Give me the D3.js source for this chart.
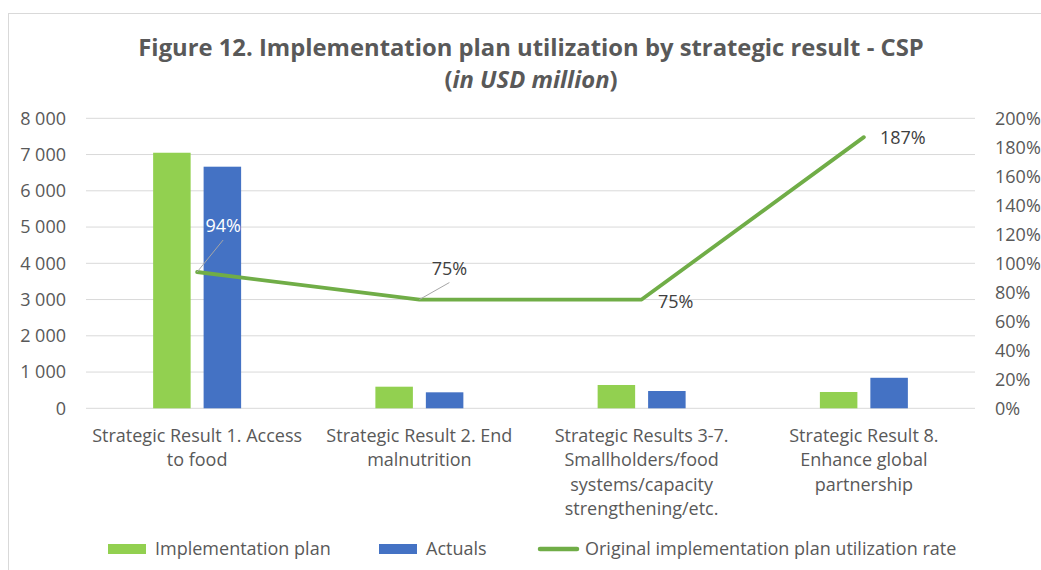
<!DOCTYPE html>
<html lang="en">
<head>
    <meta charset="UTF-8">
    <title>Implementation plan utilization by strategic result</title>
    <style>
        body {
            margin: 0;
            padding: 0;
            background-color: #ffffff;
            font-family: "Open Sans", Arial, sans-serif;
        }
        svg text {
            font-family: "Open Sans", Arial, sans-serif;
        }
    </style>
    <script src="https://d3js.org/d3.v7.min.js"></script>
</head>
<body>
    <svg id="chart" width="1041" height="570"></svg>

    <script>
        // data (USD million)
        const categories = [
            "Strategic Result 1. Access to food",
            "Strategic Result 2. End malnutrition",
            "Strategic Results 3-7. Smallholders/food systems/capacity strengthening/etc.",
            "Strategic Result 8. Enhance global partnership"
        ];
        const categoryLines = [
            ["Strategic Result 1. Access", "to food"],
            ["Strategic Result 2. End", "malnutrition"],
            ["Strategic Results 3-7.", "Smallholders/food", "systems/capacity", "strengthening/etc."],
            ["Strategic Result 8.", "Enhance global", "partnership"]
        ];
        const seriesNames = ["Implementation plan", "Actuals"];
        const implementationPlan = [7050, 596, 643, 450];
        const actuals = [6665, 441, 477, 842];
        const utilizationRate = [0.94, 0.75, 0.75, 1.87];
        const leftTicks = [0, 1000, 2000, 3000, 4000, 5000, 6000, 7000, 8000];
        const rightTicks = [0, 0.2, 0.4, 0.6, 0.8, 1.0, 1.2, 1.4, 1.6, 1.8, 2.0];
        const legendLabels = ["Implementation plan", "Actuals", "Original implementation plan utilization rate"];

        const colors = { plan: "#92D050", actual: "#4472C4", line: "#70AD47" };
        const textColor = "#595959";
        const fontSize = 18;

        const svg = d3.select("#chart");

        const plot = { left: 86, right: 975, top: 118.3, bottom: 408.3 };

        const x = d3.scaleBand()
            .domain(categories)
            .range([plot.left, plot.right])
            .padding(0);

        const x1 = d3.scaleBand()
            .domain(seriesNames)
            .range([0, x.bandwidth()])
            .paddingInner(0.257)
            .paddingOuter(1.33);

        const yLeft = d3.scaleLinear().domain([0, 8000]).range([plot.bottom, plot.top]);
        const yRight = d3.scaleLinear().domain([0, 2]).range([plot.bottom, plot.top]);

        const fmt = d3.formatLocale({ decimal: ".", thousands: " ", grouping: [3], currency: ["$", ""] }).format(",");
        const pct = d3.format(".0%");

        // outer frame of the chart
        svg.append("rect")
            .attr("x", 8.5).attr("y", 13.5)
            .attr("width", 1100).attr("height", 600)
            .attr("fill", "none")
            .attr("stroke", "#d9d9d9");

        // title
        svg.append("text")
            .attr("x", 531).attr("y", 56)
            .attr("text-anchor", "middle")
            .attr("font-size", 23.8)
            .attr("font-weight", "bold")
            .attr("fill", textColor)
            .text("Figure 12. Implementation plan utilization by strategic result - CSP");

        const sub = svg.append("text")
            .attr("x", 531).attr("y", 88)
            .attr("text-anchor", "middle")
            .attr("font-size", 23.8)
            .attr("font-weight", "bold")
            .attr("fill", textColor);
        sub.append("tspan").text("(");
        sub.append("tspan").attr("font-style", "italic").text("in USD million");
        sub.append("tspan").text(")");

        // gridlines
        svg.append("g")
            .selectAll("line")
            .data(leftTicks)
            .enter().append("line")
            .attr("x1", plot.left).attr("x2", plot.right)
            .attr("y1", d => yLeft(d)).attr("y2", d => yLeft(d))
            .attr("stroke", "#d9d9d9")
            .attr("stroke-width", 1);

        // left axis
        const leftAxis = svg.append("g")
            .attr("transform", `translate(${plot.left - 20},0)`)
            .call(d3.axisLeft(yLeft).tickValues(leftTicks).tickFormat(fmt).tickSize(0).tickPadding(0));
        leftAxis.select(".domain").remove();
        leftAxis.selectAll("text")
            .attr("font-size", fontSize)
            .attr("fill", textColor)
            .style("font-family", "'Open Sans', Arial, sans-serif");

        // right axis
        const rightAxis = svg.append("g")
            .attr("transform", `translate(${plot.right + 20},0)`)
            .call(d3.axisRight(yRight).tickValues(rightTicks).tickFormat(pct).tickSize(0).tickPadding(0));
        rightAxis.select(".domain").remove();
        rightAxis.selectAll("text")
            .attr("font-size", fontSize)
            .attr("fill", textColor)
            .style("font-family", "'Open Sans', Arial, sans-serif");

        // bars
        const rows = categories.map((c, i) => ({
            cat: c,
            values: [
                { key: seriesNames[0], value: implementationPlan[i], color: colors.plan },
                { key: seriesNames[1], value: actuals[i], color: colors.actual }
            ]
        }));

        const groups = svg.append("g")
            .selectAll("g")
            .data(rows)
            .enter().append("g")
            .attr("transform", d => `translate(${x(d.cat)},0)`);

        groups.selectAll("rect")
            .data(d => d.values)
            .enter().append("rect")
            .attr("x", d => x1(d.key))
            .attr("width", x1.bandwidth())
            .attr("y", d => yLeft(d.value))
            .attr("height", d => yLeft(0) - yLeft(d.value))
            .attr("fill", d => d.color);

        // category labels
        const catLabels = svg.append("g")
            .selectAll("text")
            .data(categories)
            .enter().append("text")
            .attr("x", d => x(d) + x.bandwidth() / 2)
            .attr("y", 442)
            .attr("text-anchor", "middle")
            .attr("font-size", fontSize)
            .attr("fill", textColor);
        catLabels.each(function (d, i) {
            const t = d3.select(this);
            categoryLines[i].forEach((line, j) => {
                t.append("tspan")
                    .attr("x", x(d) + x.bandwidth() / 2)
                    .attr("dy", j === 0 ? 0 : 24.3)
                    .text(line);
            });
        });

        // utilization line
        const points = categories.map((c, i) => ({ cat: c, rate: utilizationRate[i] }));
        const lineGen = d3.line()
            .x(d => x(d.cat) + x.bandwidth() / 2)
            .y(d => yRight(d.rate));

        svg.append("path")
            .datum(points)
            .attr("d", lineGen)
            .attr("fill", "none")
            .attr("stroke", colors.line)
            .attr("stroke-width", 3.8)
            .attr("stroke-linejoin", "round")
            .attr("stroke-linecap", "round");

        // data labels (offset from each point, leader line where Excel drew one)
        const labelStyle = [
            { dx: 26, dy: -46, color: "#ffffff", leader: [26, -32] },
            { dx: 30, dy: -31, color: "#404040", leader: [30, -17] },
            { dx: 34, dy: 2, color: "#404040", leader: null },
            { dx: 39, dy: 1, color: "#404040", leader: null }
        ];

        const labelG = svg.append("g");
        points.forEach((p, i) => {
            const px = x(p.cat) + x.bandwidth() / 2;
            const py = yRight(p.rate);
            const s = labelStyle[i];
            if (s.leader) {
                labelG.append("line")
                    .attr("x1", px).attr("y1", py)
                    .attr("x2", px + s.leader[0]).attr("y2", py + s.leader[1])
                    .attr("stroke", "#a6a6a6")
                    .attr("stroke-width", 1);
            }
            labelG.append("text")
                .attr("x", px + s.dx)
                .attr("y", py + s.dy)
                .attr("dy", "0.35em")
                .attr("text-anchor", "middle")
                .attr("font-size", fontSize)
                .attr("fill", s.color)
                .text(pct(p.rate));
        });

        // legend
        const legend = svg.append("g").attr("transform", "translate(0,549)");
        const legendX = [108, 379, 538];
        legendLabels.forEach((name, i) => {
            const g = legend.append("g").attr("transform", `translate(${legendX[i]},0)`);
            if (i < 2) {
                g.append("rect")
                    .attr("x", 0).attr("y", -5)
                    .attr("width", 38).attr("height", 10)
                    .attr("fill", i === 0 ? colors.plan : colors.actual);
            } else {
                g.append("line")
                    .attr("x1", 2).attr("x2", 39)
                    .attr("y1", 0).attr("y2", 0)
                    .attr("stroke", colors.line)
                    .attr("stroke-width", 4.5)
                    .attr("stroke-linecap", "round");
            }
            g.append("text")
                .attr("x", 47)
                .attr("y", 0)
                .attr("dy", "0.35em")
                .attr("font-size", fontSize)
                .attr("fill", textColor)
                .text(name);
        });
    </script>
</body>
</html>
